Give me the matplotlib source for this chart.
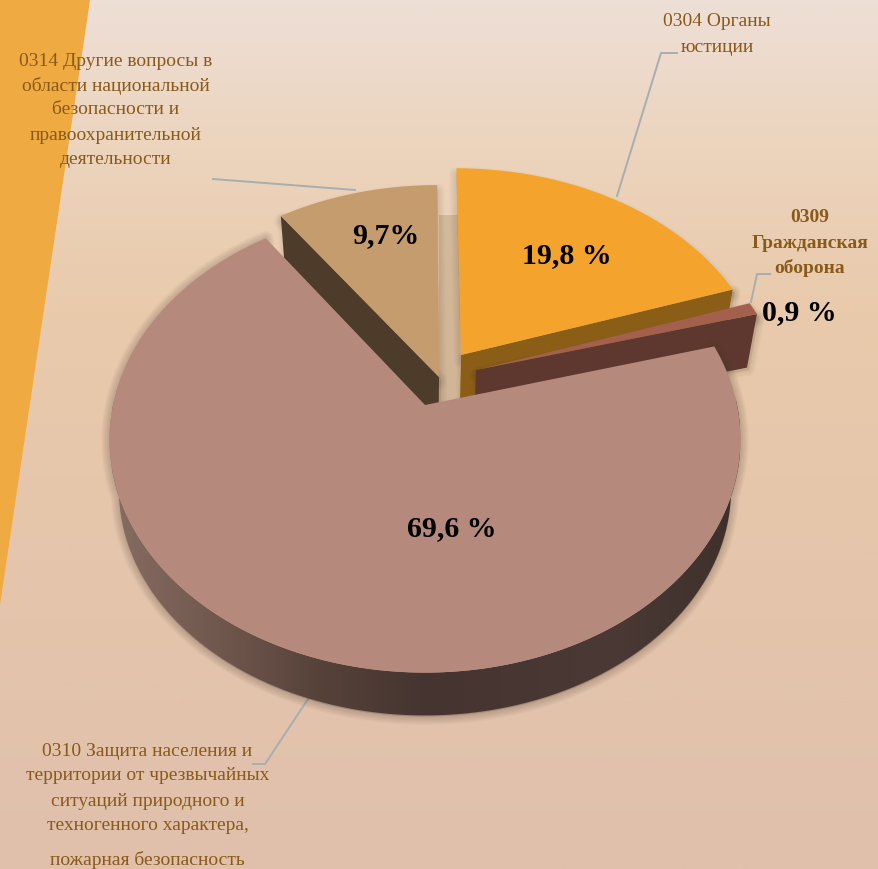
import numpy as np
import matplotlib
matplotlib.use("Agg")
import matplotlib.pyplot as plt
from matplotlib.colors import LinearSegmentedColormap
from matplotlib.patches import Polygon

# order round the pie, clockwise from 12 o'clock
codes = ["0304", "0309", "0310", "0314"]
values = [19.8, 0.9, 69.6, 9.7]
pct_labels = ["19,8 %", "0,9 %", "69,6 %", "9,7%"]

label_0304 = ["0304 Органы", "юстиции"]
label_0309 = ["0309", "Гражданская", "оборона"]
label_0310 = ["0310 Защита населения и", "территории от чрезвычайных",
              "ситуаций природного и", "техногенного характера,", "пожарная безопасность"]
label_0314 = ["0314 Другие вопросы в", "области национальной", "безопасности и",
              "правоохранительной", "деятельности"]

top_colors = ["#f4a42c", "#a3614d", "#b58a7c", "#c59c6e"]
side_colors = ["#8b5e18", "#5e372e", None, "#4d3c2a"]
# how far each slice is pulled out, in pie radii
offsets = [(0.119, 0.2266), (0.167, 0.157), (0, 0), (0.0457, 0.125)]

plt.rcParams["font.family"] = ["Liberation Serif", "DejaVu Serif"]

fig = plt.figure(figsize=(8.79, 8.69), dpi=100)
ax = fig.add_axes([0, 0, 1, 1])

bg = LinearSegmentedColormap.from_list("bg", [(0, "#eedfd6"), (0.17, "#ecd4bd"),
                                              (0.36, "#e9caab"), (1, "#e0c0ab")])
ax.imshow(np.linspace(0, 1, 400).reshape(-1, 1), cmap=bg, extent=(0, 879, 869, 0), aspect="auto", zorder=0)
ax.fill([0, 90, 0], [0, 0, 605], color="#f0aa42", lw=0, zorder=1)


def project(x, y):
    # flat circle seen in perspective
    d = 1 + 0.148 * y
    return 425 + 312 * x / d, 405 - 228 * y / d


def drop(px, py):
    # same points on the underside of the pie
    return 425 + 0.97 * (px - 425), 2100 + 0.97 * (py - 2100)


def arc(i, t0, t1, n=240):
    t = np.radians(np.linspace(t0, t1, n))
    ox, oy = offsets[i]
    return project(ox + np.sin(t), oy + np.cos(t))


def shadow(px, py, z, strength=0.028, size=9):
    for w in range(size, 0, -1):
        ax.add_patch(Polygon(np.column_stack([px, py]), closed=True, facecolor="#4a3a2c", edgecolor="#4a3a2c",
                             lw=w * 1.5, alpha=strength, joinstyle="round", zorder=z))


edges = np.cumsum([0] + values) / sum(values) * 360

# leader lines
line_color = "#a7aeb0"
ax.plot([677, 661, 617], [53, 53, 196], color=line_color, lw=1.4, zorder=2)
ax.plot([770, 757, 751], [274, 274, 302], color=line_color, lw=1.4, zorder=2)
ax.plot([213, 355], [179, 190], color=line_color, lw=1.4, zorder=2)
ax.plot([253, 265, 308], [764, 764, 699], color=line_color, lw=1.4, zorder=2)

# strip between the tan and orange slices
ax.fill([439, 460, 460, 439], [215, 215, 405, 405], color="#b8a07f", alpha=0.45, lw=0, zorder=2)

for i in [3, 0, 1]:
    ax_, ay_ = project(*offsets[i])
    ex, ey = arc(i, edges[i], edges[i + 1])
    z = 3 + [3, 0, 1].index(i) * 2
    # radial wall, seen from the front
    if i == 3:
        wx, wy = [ex[0], ax_], [ey[0], ay_]
    else:
        wx, wy = [ax_, ex[-1]], [ay_, ey[-1]]
    bx, by = drop(np.array(wx), np.array(wy))
    wall_x = list(wx) + list(bx[::-1])
    wall_y = list(wy) + list(by[::-1])
    shadow(np.r_[ax_, ex], np.r_[ay_, ey] + 6, z, strength=0.02, size=7)
    shadow(np.array(wall_x) + 2, np.array(wall_y) + 2, z, strength=0.02, size=6)
    ax.fill(wall_x, wall_y, color=side_colors[i], lw=0, zorder=z)
    ax.fill(np.r_[ax_, ex], np.r_[ay_, ey], color=top_colors[i], lw=0, zorder=z + 0.5)

# big slice: rim with a sideways gradient, then the top
i = 2
ex, ey = arc(i, edges[i], edges[i + 1])
bx, by = drop(ex, ey)
rim = np.column_stack([np.r_[ex, bx[::-1]], np.r_[ey, by[::-1]]])
shadow(rim[:, 0], rim[:, 1] + 1, 9, strength=0.03, size=8)
rim_cmap = LinearSegmentedColormap.from_list("rim", [(0, "#866c61"), (0.18, "#6f564d"), (0.33, "#564239"),
                                                     (0.5, "#453430"), (0.8, "#4a3934"), (1, "#3f302c")])
rim_img = ax.imshow(np.linspace(0, 1, 300).reshape(1, -1), cmap=rim_cmap, extent=(112, 740, 760, 400),
                    aspect="auto", zorder=9.5)
rim_img.set_clip_path(Polygon(rim, closed=True, transform=ax.transData))
ax.fill(np.r_[425, ex], np.r_[405, ey], color=top_colors[i], lw=0, zorder=10)

ax.set_xlim(0, 879)
ax.set_ylim(869, 0)
ax.axis("off")

# texts
text_color = "#8a5a1a"


def block(lines, cx, ys, **kw):
    for line, y in zip(lines, ys):
        ax.text(cx, y, line, ha="center", va="center", color=text_color, fontsize=14, zorder=12, **kw)


block(label_0304, 717, [22, 47])
block(label_0314, 115.5, [62, 86, 110, 135, 159])
block(label_0310, 147.5, [752, 776, 801, 825, 860])
block(label_0309, 810, [217, 243, 268], fontweight="bold")

pct_pos = [(567, 256), (799, 313), (452, 529), (386, 236)]
for s, (x, y) in zip(pct_labels, pct_pos):
    ax.text(x, y, s, ha="center", va="center", color="black", fontsize=21.5, fontweight="bold", zorder=12)

fig.savefig("out.png", dpi=100)
